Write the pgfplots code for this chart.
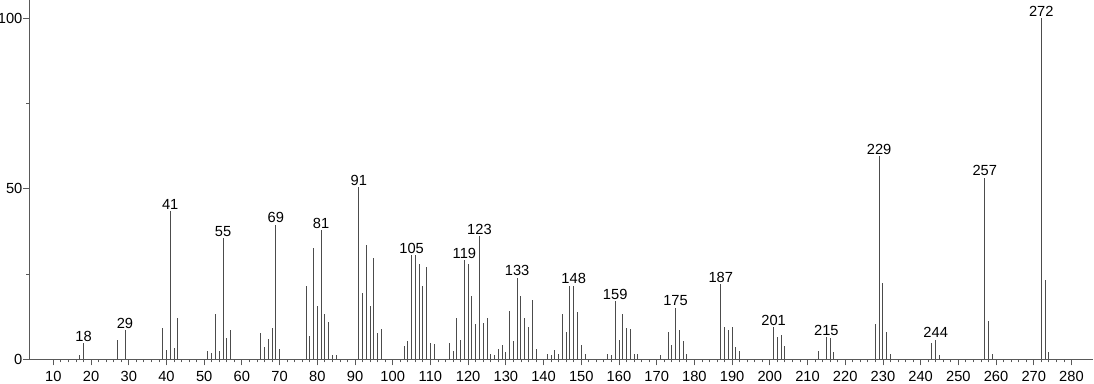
\documentclass[border=0pt]{standalone}
\usepackage{fontspec}
\setmainfont{Liberation Sans}
\usepackage{pgfplots}
\usepackage{pgfplotstable}
\pgfplotsset{compat=1.18}
\pgfplotstableread{
mz int
17 1.2
18 4.7
27 5.6
29 8.5
39 9.2
40 2.7
41 43.6
42 3.2
43 12.0
51 2.4
52 1.8
53 13.3
54 2.5
55 35.6
56 6.3
57 8.6
65 7.6
66 3.5
67 5.9
68 9.2
69 39.5
70 3.0
77 21.5
78 6.8
79 32.6
80 15.6
81 37.9
82 13.3
83 10.9
84 1.2
85 1.2
91 50.6
92 19.6
93 33.5
94 15.6
95 29.8
96 7.6
97 8.9
103 4.0
104 5.3
105 30.5
106 30.5
107 28.0
108 21.5
109 27.2
110 4.8
111 4.5
115 4.8
116 2.4
117 12.2
118 5.8
119 29.1
120 28.0
121 18.5
122 10.5
123 36.2
124 10.8
125 12.2
126 1.6
127 1.2
128 3.0
129 4.2
130 2.2
131 14.3
132 5.4
133 24.0
134 18.7
135 12.0
136 9.5
137 17.4
138 3.0
141 1.5
142 1.2
143 2.8
144 1.5
145 13.3
146 8.0
147 21.6
148 21.6
149 14.0
150 4.2
151 1.5
157 1.7
158 1.2
159 17.1
160 5.6
161 13.3
162 9.1
163 8.9
164 1.7
165 1.5
171 1.2
173 7.9
174 4.2
175 15.2
176 8.6
177 5.4
178 1.7
187 22.1
188 9.4
189 8.6
190 9.6
191 3.5
192 2.4
201 9.4
202 6.5
203 7.1
204 4.0
213 2.4
215 6.5
216 6.3
217 2.2
228 10.5
229 59.7
230 22.3
231 8.1
232 1.5
243 4.8
244 5.8
245 1.2
257 53.3
258 11.2
259 1.5
272 100
273 23.3
274 2.2
}\spectrum
\pgfplotstableread{
mz int
18 4.7
29 8.5
41 43.6
55 35.6
69 39.5
81 37.9
91 50.6
105 30.5
119 29.1
123 36.2
133 24.0
148 21.6
159 17.1
175 15.2
187 22.1
201 9.4
215 6.5
229 59.7
244 5.8
257 53.3
272 100
}\peaks
\begin{document}
\fontsize{11}{13}\selectfont
\begin{tikzpicture}
\begin{axis}[
  scale only axis, width=798pt, height=269.5pt,
  xmin=3.63, xmax=285.8, ymin=0, ymax=105.4,
  axis x line*=bottom, axis y line*=left,
  axis line style={-, black!65, line width=0.6pt},
  xtick={10,20,...,280}, minor x tick num=4,
  ytick={0,50,100}, minor y tick num=1,
  xtick pos=bottom, ytick pos=left,
  tick align=outside, major tick length=4.5pt, minor tick length=2.2pt,
  every tick/.style={black!65, line width=0.6pt},
  /pgf/number format/assume math mode=true,
  ticklabel style={font=\fontsize{11}{13}\selectfont},
  xticklabel style={inner sep=0pt, yshift=-4.3pt},
  yticklabel style={inner sep=0.5pt},
  clip=false,
]
\addplot[ycomb, black!70, line width=0.7pt, mark=none] table[x=mz, y=int] {\spectrum};
\addplot[draw=none, mark=none, nodes near coords, point meta=x,
  nodes near coords style={font=\fontsize{11}{13}\selectfont, inner sep=1pt, anchor=south, black}]
  table[x=mz, y=int] {\peaks};
\end{axis}
\pgfresetboundingbox
\path (-22pt,-18.5pt) rectangle (798.5pt,269.5pt);
\end{tikzpicture}
\end{document}
